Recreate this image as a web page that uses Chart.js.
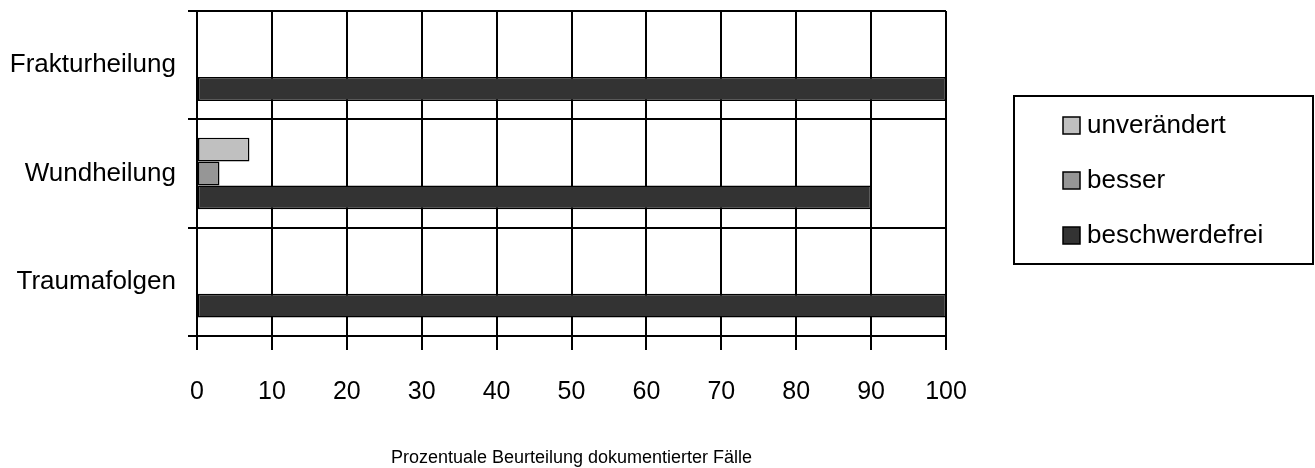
<!DOCTYPE html>
<html>
<head>
<meta charset="utf-8">
<script src="https://cdn.jsdelivr.net/npm/chart.js@4/dist/chart.umd.min.js"></script>
<style>
  html, body { margin: 0; padding: 0; background: #fff; }
  canvas { display: block; }
</style>
</head>
<body>
<canvas id="c" width="1315" height="468"></canvas>
<script>
const categories = ["Frakturheilung", "Wundheilung", "Traumafolgen"];
const seriesNames = ["unverändert", "besser", "beschwerdefrei"];
const unveraendert = [0, 7, 0];
const besser = [0, 3, 0];
const beschwerdefrei = [100, 90, 100];
const xTitle = "Prozentuale Beurteilung dokumentierter Fälle";
const colors = ["#c0c0c0", "#969696", "#333333"];
const FONT = "'Liberation Sans', Arial, sans-serif";

const legendPlugin = {
  id: 'boxLegend',
  afterDraw(chart) {
    const ctx = chart.ctx;
    ctx.save();
    ctx.strokeStyle = '#000';
    ctx.lineWidth = 2;
    ctx.strokeRect(1014, 96, 299, 168);
    const ys = [125, 180, 235];
    chart.data.datasets.forEach((ds, i) => {
      const y = ys[i];
      ctx.fillStyle = ds.backgroundColor;
      ctx.fillRect(1063, y - 8, 17, 17);
      ctx.lineWidth = 1.5;
      ctx.strokeStyle = '#000';
      ctx.strokeRect(1063, y - 8, 17, 17);
      ctx.fillStyle = '#000';
      ctx.font = "26px " + FONT;
      ctx.textBaseline = 'middle';
      ctx.textAlign = 'left';
      ctx.fillText(ds.label, 1087, y + 1);
    });
    ctx.restore();
  }
};

const seriesData = [unveraendert, besser, beschwerdefrei];

new Chart(document.getElementById('c'), {
  type: 'bar',
  data: {
    labels: categories,
    datasets: seriesNames.map((n, i) => ({
      label: n,
      data: seriesData[i],
      backgroundColor: colors[i],
      borderColor: '#000',
      borderWidth: 1.5,
      borderSkipped: false,
      categoryPercentage: 0.66,
      barPercentage: 1.0
    }))
  },
  options: {
    indexAxis: 'y',
    responsive: false,
    animation: false,
    devicePixelRatio: 1,
    layout: { padding: { left: 0, top: 11, right: 369, bottom: 0 } },
    plugins: { legend: { display: false }, tooltip: { enabled: false } },
    scales: {
      y: {
        type: 'category',
        afterFit: s => { s.width = 197; s.paddingTop = 0; s.paddingBottom = 0; },
        grid: { color: '#000', lineWidth: 2, tickLength: 9, offset: true, drawTicks: true },
        border: { color: '#000', width: 2 },
        ticks: { color: '#000', font: { family: FONT, size: 26 }, padding: 12 }
      },
      x: {
        min: 0, max: 100,
        afterFit: s => { s.height = 132; },
        ticks: { stepSize: 10, color: '#000', font: { family: FONT, size: 25 }, padding: 27, maxRotation: 0 },
        grid: { color: '#000', lineWidth: 2, tickLength: 14 },
        border: { color: '#000', width: 2 },
        title: { display: true, text: xTitle, color: '#000', font: { family: FONT, size: 18 }, padding: { top: 0, bottom: -1 } }
      }
    }
  },
  plugins: [legendPlugin]
});
</script>
</body>
</html>
